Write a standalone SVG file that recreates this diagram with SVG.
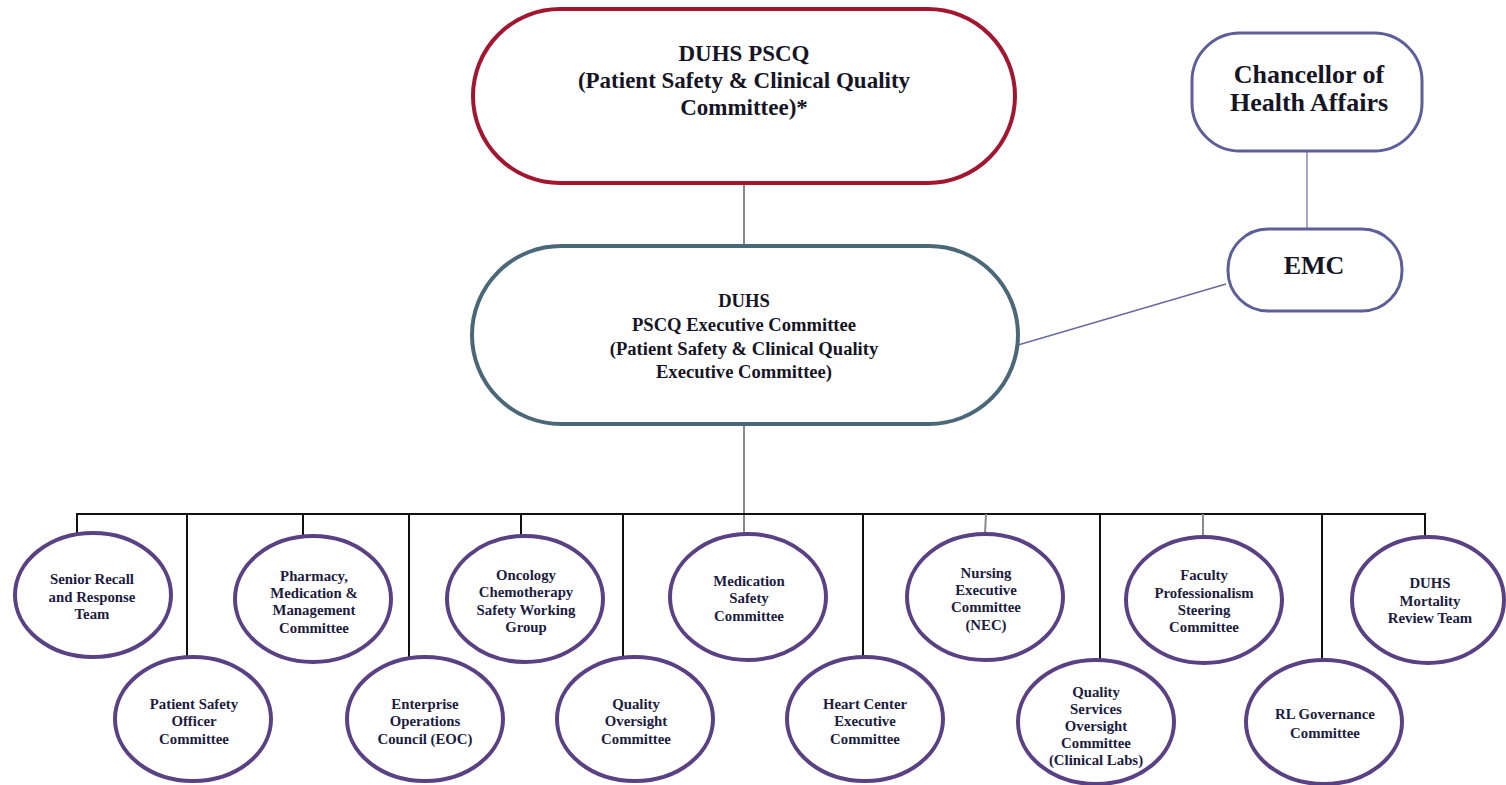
<svg xmlns="http://www.w3.org/2000/svg" width="1506" height="785" viewBox="0 0 1506 785" font-family="Liberation Serif">
<style>
.t{font-weight:bold;text-anchor:middle;fill:#151525}
.big{font-size:23px}
.xl{font-size:26px}
.mid{font-size:18.6px}
.sm{font-size:14.8px;fill:#1c1c40}
.ell{fill:#fff;stroke:#5a4184;stroke-width:4}
.bus{stroke:#111;stroke-width:2;fill:none}
.gray{stroke:#8a8a8a;stroke-width:2;fill:none}
</style>
<rect width="1506" height="785" fill="#fff"/>
<g id="connectors">
<line class="gray" x1="744" y1="184" x2="744" y2="246"/>
<line class="gray" x1="744" y1="425" x2="744" y2="534"/>
<line x1="1307" y1="152" x2="1307" y2="228" stroke="#a8a8c8" stroke-width="2"/>
<line x1="1226" y1="284" x2="1018" y2="345" stroke="#6a6aa0" stroke-width="1.5"/>
<polyline class="bus" points="77,533 77,514 1425,514 1425,537"/>
<line class="bus" x1="187" y1="514" x2="187" y2="657"/>
<line class="bus" x1="303" y1="514" x2="303" y2="535"/>
<line class="bus" x1="409" y1="514" x2="409" y2="657"/>
<line class="bus" x1="521" y1="514" x2="521" y2="537"/>
<line class="bus" x1="623" y1="514" x2="623" y2="657"/>
<line class="bus" x1="863" y1="514" x2="863" y2="657"/>
<line class="gray" x1="986" y1="514" x2="985" y2="533"/>
<line class="bus" x1="1100" y1="514" x2="1100" y2="660"/>
<line class="gray" x1="1203" y1="514" x2="1203" y2="537"/>
<line class="bus" x1="1322" y1="514" x2="1322" y2="660"/>
</g>
<g id="pscq">
<rect x="473" y="9" width="542" height="174" rx="87" fill="#fff" stroke="#a3162f" stroke-width="4"/>
<text class="t big" x="744" y="61">DUHS PSCQ</text>
<text class="t big" x="744" y="88">(Patient Safety &amp; Clinical Quality</text>
<text class="t big" x="744" y="115">Committee)*</text>
</g>
<g id="pscq-exec">
<rect x="472" y="246" width="546" height="178" rx="89" fill="#fff" stroke="#4b6878" stroke-width="4"/>
<text class="t mid" x="744" y="307">DUHS</text>
<text class="t mid" x="744" y="331">PSCQ Executive Committee</text>
<text class="t mid" x="744" y="355">(Patient Safety &amp; Clinical Quality</text>
<text class="t mid" x="744" y="378">Executive Committee)</text>
</g>
<g id="chancellor">
<rect x="1192" y="33" width="230" height="118" rx="48" fill="#fff" stroke="#5e5e98" stroke-width="3"/>
<text class="t xl" x="1309" y="83">Chancellor of</text>
<text class="t xl" x="1309" y="111">Health Affairs</text>
</g>
<g id="emc">
<rect x="1228" y="229" width="174" height="82" rx="40" fill="#fff" stroke="#5e5e98" stroke-width="3"/>
<text class="t xl" x="1314" y="274">EMC</text>
</g>
<g id="senior-recall">
<ellipse class="ell" cx="93" cy="595" rx="78" ry="62"/>
<text class="t sm" x="92" y="584">Senior Recall</text>
<text class="t sm" x="92" y="602">and Response</text>
<text class="t sm" x="92" y="619">Team</text>
</g>
<g id="patient-safety-officer">
<ellipse class="ell" cx="193" cy="719" rx="78" ry="62"/>
<text class="t sm" x="194" y="709">Patient Safety</text>
<text class="t sm" x="194" y="726">Officer</text>
<text class="t sm" x="194" y="744">Committee</text>
</g>
<g id="pharmacy">
<ellipse class="ell" cx="313" cy="599" rx="78" ry="63"/>
<text class="t sm" x="314" y="581">Pharmacy,</text>
<text class="t sm" x="314" y="598">Medication &amp;</text>
<text class="t sm" x="314" y="615">Management</text>
<text class="t sm" x="314" y="633">Committee</text>
</g>
<g id="eoc">
<ellipse class="ell" cx="425" cy="719" rx="78" ry="62"/>
<text class="t sm" x="425" y="709">Enterprise</text>
<text class="t sm" x="425" y="726">Operations</text>
<text class="t sm" x="425" y="744">Council (EOC)</text>
</g>
<g id="oncology">
<ellipse class="ell" cx="525" cy="599" rx="78" ry="63"/>
<text class="t sm" x="526" y="580">Oncology</text>
<text class="t sm" x="526" y="597">Chemotherapy</text>
<text class="t sm" x="526" y="615">Safety Working</text>
<text class="t sm" x="526" y="632">Group</text>
</g>
<g id="quality-oversight">
<ellipse class="ell" cx="635" cy="719" rx="78" ry="62"/>
<text class="t sm" x="636" y="709">Quality</text>
<text class="t sm" x="636" y="726">Oversight</text>
<text class="t sm" x="636" y="744">Committee</text>
</g>
<g id="medication-safety">
<ellipse class="ell" cx="748" cy="597" rx="78" ry="63"/>
<text class="t sm" x="749" y="586">Medication</text>
<text class="t sm" x="749" y="603">Safety</text>
<text class="t sm" x="749" y="621">Committee</text>
</g>
<g id="heart-center">
<ellipse class="ell" cx="865" cy="719" rx="78" ry="62"/>
<text class="t sm" x="865" y="709">Heart Center</text>
<text class="t sm" x="865" y="726">Executive</text>
<text class="t sm" x="865" y="744">Committee</text>
</g>
<g id="nursing">
<ellipse class="ell" cx="985" cy="597" rx="78" ry="63"/>
<text class="t sm" x="986" y="578">Nursing</text>
<text class="t sm" x="986" y="595">Executive</text>
<text class="t sm" x="986" y="612">Committee</text>
<text class="t sm" x="986" y="630">(NEC)</text>
</g>
<g id="quality-services">
<ellipse class="ell" cx="1096" cy="722" rx="78" ry="62"/>
<text class="t sm" x="1096" y="697">Quality</text>
<text class="t sm" x="1096" y="714">Services</text>
<text class="t sm" x="1096" y="731">Oversight</text>
<text class="t sm" x="1096" y="748">Committee</text>
<text class="t sm" x="1096" y="765">(Clinical Labs)</text>
</g>
<g id="faculty">
<ellipse class="ell" cx="1204" cy="600" rx="78" ry="63"/>
<text class="t sm" x="1204" y="580">Faculty</text>
<text class="t sm" x="1204" y="598">Professionalism</text>
<text class="t sm" x="1204" y="615">Steering</text>
<text class="t sm" x="1204" y="632">Committee</text>
</g>
<g id="rl-governance">
<ellipse class="ell" cx="1324" cy="722" rx="78" ry="62"/>
<text class="t sm" x="1325" y="719">RL Governance</text>
<text class="t sm" x="1325" y="738">Committee</text>
</g>
<g id="mortality">
<ellipse class="ell" cx="1428" cy="600" rx="76" ry="63"/>
<text class="t sm" x="1430" y="588">DUHS</text>
<text class="t sm" x="1430" y="606">Mortality</text>
<text class="t sm" x="1430" y="623">Review Team</text>
</g>
</svg>
